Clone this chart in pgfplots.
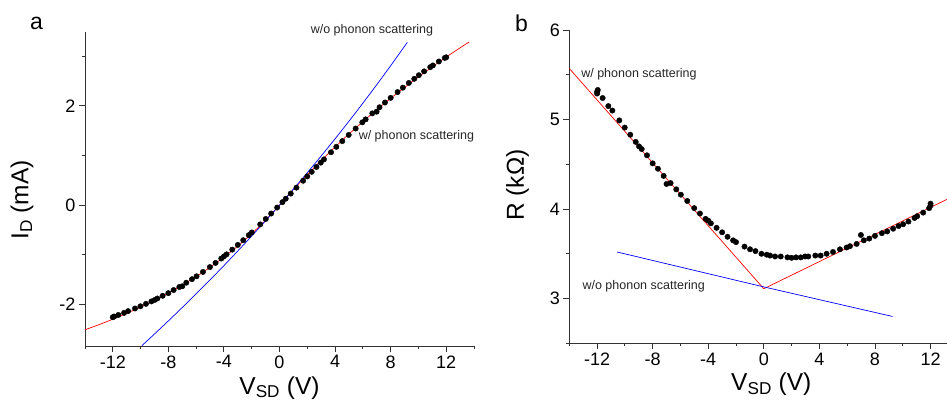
\documentclass[border=0pt]{standalone}
\usepackage{fontspec}
\setmainfont{Liberation Sans}
\usepackage{pgfplots}
\pgfplotsset{compat=1.18}

\pgfplotstableread{
V R
-12.0 5.31
-12.0 5.29
-11.95 5.33
-11.6 5.24
-11.19 5.15
-10.9 5.10
-10.4 4.99
-10.01 4.91
-9.61 4.83
-9.22 4.75
-8.98 4.70
-8.79 4.67
-8.41 4.60
-8.0 4.51
-7.62 4.45
-7.21 4.37
-7.0 4.28
-6.71 4.29
-6.3 4.22
-5.97 4.16
-5.51 4.09
-5.01 4.01
-4.6 3.95
-4.19 3.89
-4.0 3.87
-3.81 3.84
-3.4 3.79
-3.0 3.74
-2.61 3.69
-2.21 3.65
-2.0 3.63
-1.39 3.58
-0.99 3.55
-0.60 3.53
-0.17 3.50
0.21 3.49
0.45 3.48
0.81 3.47
1.22 3.47
1.70 3.46
2.0 3.455
2.32 3.46
2.66 3.46
2.97 3.47
3.2 3.47
3.71 3.48
4.09 3.48
4.52 3.50
4.98 3.52
5.48 3.55
5.96 3.57
6.2 3.585
6.68 3.61
6.99 3.71
7.2 3.65
7.59 3.67
8.0 3.70
8.5 3.73
8.88 3.75
9.31 3.78
9.7 3.81
10.03 3.83
10.41 3.86
10.85 3.90
11.04 3.92
11.47 3.96
11.9 4.01
12.0 4.06
12.0 4.04
}\Rdata

\pgfplotstableread{
V I
-12.0 -2.260
-11.9 -2.245
-11.6 -2.214
-11.19 -2.173
-10.9 -2.137
-10.4 -2.084
-10.01 -2.039
-9.61 -1.990
-9.22 -1.941
-8.98 -1.911
-8.79 -1.882
-8.41 -1.828
-8.0 -1.774
-7.62 -1.712
-7.21 -1.650
-7.0 -1.636
-6.71 -1.564
-6.3 -1.493
-5.97 -1.435
-5.51 -1.347
-5.01 -1.249
-4.6 -1.165
-4.19 -1.077
-4.0 -1.034
-3.81 -0.992
-3.4 -0.897
-3.0 -0.802
-2.61 -0.707
-2.21 -0.605
-2.0 -0.551
-1.39 -0.388
-0.99 -0.279
-0.60 -0.170
-0.17 -0.049
0.21 0.060
0.45 0.129
0.81 0.233
1.22 0.352
1.70 0.491
2.0 0.579
2.32 0.671
2.66 0.769
2.97 0.856
3.2 0.922
3.71 1.066
4.09 1.175
4.52 1.291
4.98 1.415
5.48 1.544
5.96 1.669
6.2 1.729
6.68 1.850
6.99 1.884
7.2 1.973
7.59 2.068
8.0 2.162
8.5 2.279
8.88 2.368
9.31 2.463
9.7 2.546
10.03 2.619
10.41 2.697
10.85 2.782
11.04 2.816
11.47 2.896
11.9 2.968
12.0 2.980
}\Idata

\pgfplotstableread{
V I
-14 -2.513
-13 -2.410
-12 -2.300
-11 -2.181
-10 -2.055
-9 -1.919
-8 -1.772
-7 -1.613
-6 -1.441
-5 -1.254
-4 -1.049
-3 -0.825
-2 -0.578
-1 -0.304
0 0
1 0.314
2 0.613
3 0.899
4 1.172
5 1.433
6 1.683
7 1.922
8 2.152
9 2.372
10 2.584
11 2.788
12 2.984
13 3.172
13.66 3.290
}\Iwith

\pgfplotstableread{
V I
-9.9 -2.832
-9 -2.598
-8 -2.334
-7 -2.064
-6 -1.788
-5 -1.507
-4 -1.219
-3 -0.924
-2 -0.623
-1 -0.315
0 0
1 0.3225
2 0.653
3 0.991
4 1.337
5 1.692
6 2.055
7 2.428
8 2.810
9 3.203
9.2 3.282
}\Iwo

\pgfplotsset{
 myax/.style={
   scale only axis, axis lines=left,
   axis line style={-, color=black!80, line width=0.9pt},
   every tick/.style={color=black!80, line width=0.9pt},
   tick align=outside,
   major tick length=6pt, minor tick length=3pt,
   xmin=-14, xmax=14, xtick={-12,-8,...,12}, minor xtick={-14,-10,...,14},
   ticklabel style={font=\fontsize{18}{20}\selectfont},
   /pgf/number format/assume math mode=true,
   label style={font=\fontsize{24.5}{26}\selectfont},
   clip=false,
   width=389pt,
 }
}

\begin{document}
\begin{tikzpicture}
\useasboundingbox (0,0) rectangle (947pt,402pt);
\clip (0,0) rectangle (947pt,402pt);

\node[anchor=base west, inner sep=0, font=\fontsize{23}{25}\selectfont] at (30pt,372pt) {a};
\node[anchor=base west, inner sep=0, font=\fontsize{23}{25}\selectfont] at (515pt,370.3pt) {b};

\begin{axis}[myax,
  at={(85pt,56pt)}, anchor=south west,
  height=314pt,
  ymin=-2.84, ymax=3.49,
  ytick={-2,0,2}, minor ytick={-1,1,3},
  xlabel={V\textsubscript{SD} (V)},
  xlabel style={at={(axis description cs:0.5,0)}, anchor=base, yshift=-48pt},
  ylabel={I\textsubscript{D} (mA)},
  ylabel style={at={(axis description cs:-0.162,0.465)}, anchor=center},
]
\addplot[red, line width=0.7pt, smooth] table[x=V,y=I] {\Iwith};
\addplot[blue, line width=0.7pt, smooth] table[x=V,y=I] {\Iwo};
\addplot[only marks, mark=*, mark size=2.7pt, black] table[x=V,y=I] {\Idata};
\node[anchor=west, inner sep=0, font=\fontsize{12.5}{14}\selectfont, text=black!85] at (axis cs:2.24,3.53) {w/o phonon scattering};
\node[anchor=west, inner sep=0, font=\fontsize{12.5}{14}\selectfont, text=black!85] at (axis cs:5.69,1.39) {w/ phonon scattering};
\end{axis}

\begin{axis}[myax,
  at={(569.3pt,58.7pt)}, anchor=south west,
  height=313.3pt,
  ymin=2.5, ymax=6,
  ytick={3,4,5,6}, minor ytick={2.5,3.5,4.5,5.5},
  xlabel={V\textsubscript{SD} (V)},
  xlabel style={at={(axis description cs:0.5,0)}, anchor=base, yshift=-47.5pt, xshift=7.5pt},
  ylabel={R (kΩ)},
  ylabel style={at={(axis description cs:-0.133,0.505)}, anchor=center},
]
\addplot[red, line width=0.7pt] coordinates {(-14,5.57) (0,3.11) (14,4.17)};
\addplot[blue, line width=0.7pt] coordinates {(-10.56,3.52) (0,3.13) (9.26,2.80)};
\addplot[only marks, mark=*, mark size=2.7pt, black] table[x=V,y=R] {\Rdata};
\node[anchor=west, inner sep=0, font=\fontsize{12.5}{14}\selectfont, text=black!85] at (axis cs:-13.15,5.50) {w/ phonon scattering};
\node[anchor=west, inner sep=0, font=\fontsize{12.5}{14}\selectfont, text=black!85] at (axis cs:-13.06,3.14) {w/o phonon scattering};
\end{axis}
\end{tikzpicture}
\end{document}
